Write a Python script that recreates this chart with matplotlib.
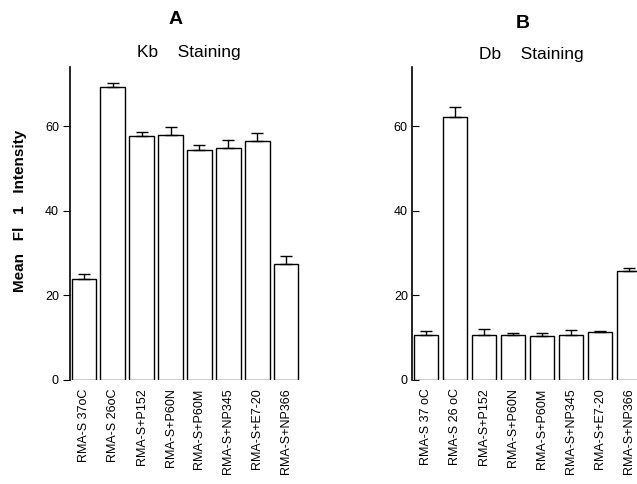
import numpy as np
import matplotlib
matplotlib.use("Agg")
import matplotlib.pyplot as plt

plt.rcParams["font.family"] = ["Liberation Sans", "DejaVu Sans"]

# Kb staining (panel A)
kb_labels = ["RMA-S 37oC", "RMA-S 26oC", "RMA-S+P152", "RMA-S+P60N",
             "RMA-S+P60M", "RMA-S+NP345", "RMA-S+E7-20", "RMA-S+NP366"]
kb_mean = [23.9, 69.2, 57.6, 57.9, 54.3, 54.8, 56.5, 27.5]
kb_err = [1.1, 0.9, 1.1, 1.8, 1.2, 2.0, 2.0, 1.9]

# Db staining (panel B)
db_labels = ["RMA-S 37 oC", "RMA-S 26 oC", "RMA-S+P152", "RMA-S+P60N",
             "RMA-S+P60M", "RMA-S+NP345", "RMA-S+E7-20", "RMA-S+NP366"]
db_mean = [10.7, 62.1, 10.7, 10.6, 10.4, 10.7, 11.4, 25.8]
db_err = [0.9, 2.4, 1.4, 0.5, 0.7, 1.1, 0.2, 0.7]

fig = plt.figure(figsize=(6.37, 4.84), dpi=100)

ax_a = fig.add_axes([70 / 637, 1 - 380 / 484, 230 / 637, 313 / 484])
ax_b = fig.add_axes([412 / 637, 1 - 380 / 484, 231 / 637, 313 / 484])


def draw_panel(ax, labels, means, errs, tick_dir):
    x = np.arange(len(labels))
    ax.bar(x, means, width=0.85, color="white", edgecolor="black", linewidth=1.0)
    ax.errorbar(x, means, yerr=[np.zeros(len(errs)), errs], fmt="none",
                ecolor="black", elinewidth=1.0, capsize=4, capthick=1.0)
    ax.set_xlim(-0.48, 7.48)
    ax.set_ylim(0, 74)
    ax.set_yticks([0, 20, 40, 60])
    ax.tick_params(axis="y", direction=tick_dir, length=5, labelsize=9, pad=3)
    ax.set_xticks(x)
    ax.set_xticklabels(labels, rotation=90, fontsize=9)
    ax.tick_params(axis="x", length=0, pad=6)
    for side in ["top", "right", "bottom"]:
        ax.spines[side].set_visible(False)
    ax.spines["left"].set_linewidth(1.2)


draw_panel(ax_a, kb_labels, kb_mean, kb_err, "out")
draw_panel(ax_b, db_labels, db_mean, db_err, "in")

ax_a.set_ylabel("Mean   Fl   1   Intensity", fontsize=11, fontweight="bold")
ax_a.yaxis.set_label_coords(-0.185, 0.54)

fig.text(176 / 637, 1 - 20 / 484, "A", fontsize=14, fontweight="bold", ha="center", va="center")
fig.text(189 / 637, 1 - 52 / 484, "Kb    Staining", fontsize=12.5, ha="center", va="center")
fig.text(523 / 637, 1 - 24 / 484, "B", fontsize=14, fontweight="bold", ha="center", va="center")
fig.text(531 / 637, 1 - 55 / 484, "Db    Staining", fontsize=12.5, ha="center", va="center")

fig.savefig("out.png", dpi=100)
